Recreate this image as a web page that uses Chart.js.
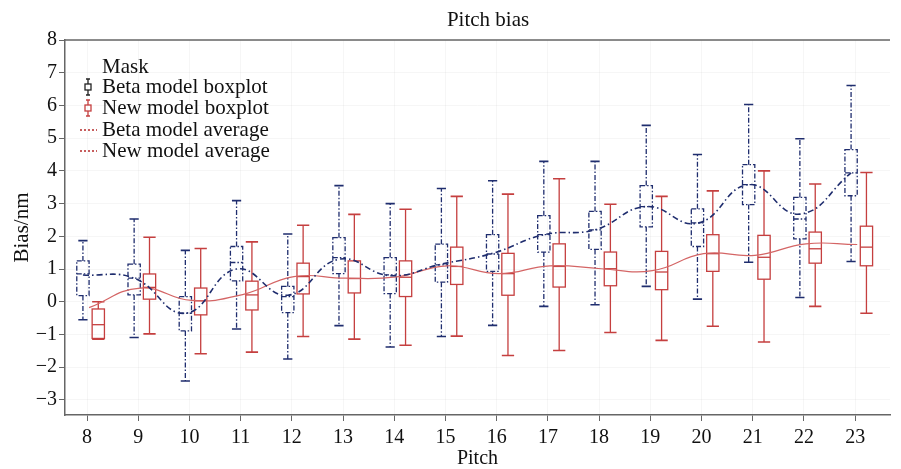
<!DOCTYPE html>
<html>
<head>
<meta charset="utf-8">
<script src="https://cdn.jsdelivr.net/npm/chart.js@4.4.1/dist/chart.umd.min.js"></script>
<style>
  html, body { margin: 0; padding: 0; background: #fff; }
  #wrap { width: 901px; height: 469px; }
</style>
</head>
<body>
<div id="wrap"><canvas id="pitchChart"></canvas></div>
<script>
// pitch categories
const pitches = [8, 9, 10, 11, 12, 13, 14, 15, 16, 17, 18, 19, 20, 21, 22, 23];

// Beta model boxplot (nm)
const betaMax = [1.87, 2.53, 1.57, 3.09, 2.07, 3.55, 3.00, 3.46, 3.70, 4.29, 4.29, 5.39, 4.50, 6.03, 4.98, 6.61];
const betaQ3  = [1.25, 1.15, 0.16, 1.69, 0.47, 1.96, 1.35, 1.76, 2.05, 2.63, 2.76, 3.55, 2.84, 4.19, 3.19, 4.65];
const betaMed = [0.85, 0.72, -0.35, 1.20, 0.16, 1.35, 0.82, 1.13, 1.46, 2.05, 2.20, 2.91, 2.41, 3.58, 2.53, 3.94];
const betaQ1  = [0.19, 0.21, -0.89, 0.64, -0.33, 0.86, 0.25, 0.60, 0.93, 1.52, 1.60, 2.29, 1.69, 2.97, 1.92, 3.24];
const betaMin = [-0.55, -1.09, -2.42, -0.83, -1.75, -0.73, -1.38, -1.06, -0.72, -0.14, -0.09, 0.47, 0.08, 1.21, 0.13, 1.23];

// New model boxplot (nm)
const newMax = [0.00, 1.97, 1.63, 1.83, 2.34, 2.67, 2.83, 3.22, 3.29, 3.76, 2.98, 3.22, 3.39, 4.00, 3.60, 3.95];
const newQ3  = [-0.22, 0.85, 0.42, 0.63, 1.18, 1.25, 1.25, 1.67, 1.48, 1.77, 1.52, 1.54, 2.05, 2.03, 2.13, 2.31];
const newMed = [-0.70, 0.44, 0.03, 0.21, 0.77, 0.71, 0.75, 1.08, 0.86, 1.08, 1.01, 0.91, 1.47, 1.36, 1.62, 1.67];
const newQ1  = [-1.12, 0.08, -0.40, -0.25, 0.24, 0.27, 0.16, 0.53, 0.20, 0.45, 0.49, 0.37, 0.93, 0.69, 1.18, 1.10];
const newMin = [-1.14, -0.98, -1.59, -1.54, -1.06, -1.14, -1.33, -1.05, -1.64, -1.49, -0.94, -1.18, -0.75, -1.23, -0.14, -0.35];

// averages
const betaAvg = [0.82, 0.72, -0.35, 1.00, 0.20, 1.30, 0.80, 1.15, 1.48, 2.05, 2.20, 2.91, 2.40, 3.58, 2.68, 3.94];
const newAvg  = [-0.18, 0.42, 0.04, 0.22, 0.77, 0.72, 0.76, 1.10, 0.86, 1.10, 1.01, 0.95, 1.47, 1.42, 1.77, 1.75];

const yTicks = [-3, -2, -1, 0, 1, 2, 3, 4, 5, 6, 7, 8];

const NAVY = '#1f2d6e';
const RED = '#c53f3f';
const RED_LINE = '#d46565';
const SERIF = '"Liberation Serif", "DejaVu Serif", serif';

const betaOff = -0.08, newOff = 0.22, avgOff = 0.04, halfW = 0.12;

const boxPlugin = {
    id: 'boxes',
    beforeDatasetsDraw(chart) {
        const c = chart.ctx, xs = chart.scales.x, ys = chart.scales.y;
        const area = chart.chartArea;
        c.save();
        c.beginPath();
        c.rect(area.left, area.top, area.right - area.left, area.bottom - area.top);
        c.clip();
        const drawBox = (i, off, mn, q1, md, q3, mx, color, dash, capHalf) => {
            const cx = xs.getPixelForValue(pitches[i] + off);
            const l = xs.getPixelForValue(pitches[i] + off - halfW);
            const r = xs.getPixelForValue(pitches[i] + off + halfW);
            const capL = xs.getPixelForValue(pitches[i] + off - capHalf);
            const capR = xs.getPixelForValue(pitches[i] + off + capHalf);
            const pMax = ys.getPixelForValue(mx[i]), pMin = ys.getPixelForValue(mn[i]);
            const p3 = ys.getPixelForValue(q3[i]), p1 = ys.getPixelForValue(q1[i]);
            const pm = ys.getPixelForValue(md[i]);
            c.strokeStyle = color;
            c.lineWidth = 1.3;
            c.setLineDash(dash);
            c.beginPath();
            c.moveTo(cx, p3); c.lineTo(cx, pMax);
            c.moveTo(cx, p1); c.lineTo(cx, pMin);
            c.stroke();
            c.strokeRect(l, p3, r - l, p1 - p3);
            c.beginPath();
            c.moveTo(l, pm); c.lineTo(r, pm);
            c.stroke();
            c.setLineDash([]);
            c.lineWidth = 1.6;
            c.beginPath();
            c.moveTo(capL, pMax); c.lineTo(capR, pMax);
            c.moveTo(capL, pMin); c.lineTo(capR, pMin);
            c.stroke();
        };
        pitches.forEach((p, i) => {
            drawBox(i, betaOff, betaMin, betaQ1, betaMed, betaQ3, betaMax, NAVY, [5, 2, 1.5, 2], 0.09);
            drawBox(i, newOff, newMin, newQ1, newMed, newQ3, newMax, RED, [], halfW);
        });
        c.restore();
    },
    afterDraw(chart) {
        const c = chart.ctx, area = chart.chartArea;
        c.save();
        // top frame
        c.strokeStyle = '#666';
        c.lineWidth = 1.5;
        c.beginPath();
        c.moveTo(area.left, area.top);
        c.lineTo(area.right, area.top);
        c.stroke();

        // chart title
        c.font = '21px ' + SERIF;
        c.fillStyle = '#111';
        c.textAlign = 'center';
        c.textBaseline = 'middle';
        c.fillText('Pitch bias', 488, 20);

        // legend
        const lx = area.left + 37, ix = area.left + 23;
        c.font = '21px ' + SERIF;
        c.textAlign = 'left';
        const rows = [
            ['Mask', null, area.top + 27],
            ['Beta model boxplot', 'beta', area.top + 47],
            ['New model boxplot', 'new', area.top + 68],
            ['Beta model average', 'avg', area.top + 90],
            ['New model average', 'avg', area.top + 111]
        ];
        rows.forEach(([txt, kind, y]) => {
            c.fillStyle = '#111';
            c.fillText(txt, lx, y);
            if (kind === 'beta' || kind === 'new') {
                const col = kind === 'beta' ? '#222' : RED;
                c.strokeStyle = col;
                c.lineWidth = 1.3;
                c.beginPath();
                c.moveTo(ix, y - 8); c.lineTo(ix, y - 3);
                c.moveTo(ix, y + 3); c.lineTo(ix, y + 8);
                c.moveTo(ix - 2, y - 8); c.lineTo(ix + 2, y - 8);
                c.moveTo(ix - 2, y + 8); c.lineTo(ix + 2, y + 8);
                c.stroke();
                c.strokeRect(ix - 3, y - 3, 6, 6);
            } else if (kind === 'avg') {
                c.strokeStyle = '#b52a2a';
                c.lineWidth = 1.5;
                c.setLineDash([2, 2]);
                c.beginPath();
                c.moveTo(ix - 8, y); c.lineTo(ix + 9, y);
                c.stroke();
                c.setLineDash([]);
            }
        });
        c.restore();
    }
};

const ctx = document.getElementById('pitchChart').getContext('2d');

const pitchChart = new Chart(ctx, {
    type: 'line',
    data: {
        datasets: [{
            label: 'Beta model average',
            data: pitches.map((p, i) => ({ x: p + betaOff, y: betaAvg[i] })),
            borderColor: NAVY,
            borderWidth: 1.6,
            borderDash: [6, 3, 1.5, 3],
            pointRadius: 0,
            tension: 0.45,
            fill: false
        }, {
            label: 'New model average',
            data: pitches.map((p, i) => ({ x: p + avgOff, y: newAvg[i] })),
            borderColor: RED_LINE,
            borderWidth: 1.2,
            pointRadius: 0,
            tension: 0.45,
            fill: false
        }]
    },
    options: {
        responsive: true,
        maintainAspectRatio: false,
        animation: false,
        layout: { padding: { left: 10, right: 11, top: 40, bottom: 0 } },
        scales: {
            x: {
                type: 'linear',
                min: 7.57,
                max: 23.68,
                afterFit: (s) => { s.height = 54; },
                ticks: {
                    stepSize: 1,
                    includeBounds: false,
                    color: '#111',
                    font: { family: SERIF, size: 20 },
                    padding: 5
                },
                grid: { color: 'rgba(0,0,0,0.035)', tickColor: '#666', tickLength: 6 },
                border: { color: '#666', width: 1.5 },
                title: {
                    display: true,
                    text: 'Pitch',
                    color: '#111',
                    font: { family: SERIF, size: 20 },
                    padding: { top: 0, bottom: -2 }
                }
            },
            y: {
                min: -3.46,
                max: 8,
                afterFit: (s) => { s.width = 55; },
                afterBuildTicks: (s) => { s.ticks = yTicks.map(v => ({ value: v })); },
                ticks: {
                    color: '#111',
                    font: { family: SERIF, size: 20 },
                    padding: 2,
                    callback: (v) => String(v).replace('-', '\u2212')
                },
                grid: { color: 'rgba(0,0,0,0.035)', tickColor: '#666', tickLength: 6 },
                border: { color: '#666', width: 1.5 },
                title: {
                    display: true,
                    text: 'Bias/nm',
                    color: '#111',
                    font: { family: SERIF, size: 21 },
                    padding: 0
                }
            }
        },
        plugins: {
            legend: { display: false },
            tooltip: { enabled: false },
            title: { display: false }
        }
    },
    plugins: [boxPlugin]
});
</script>
</body>
</html>
